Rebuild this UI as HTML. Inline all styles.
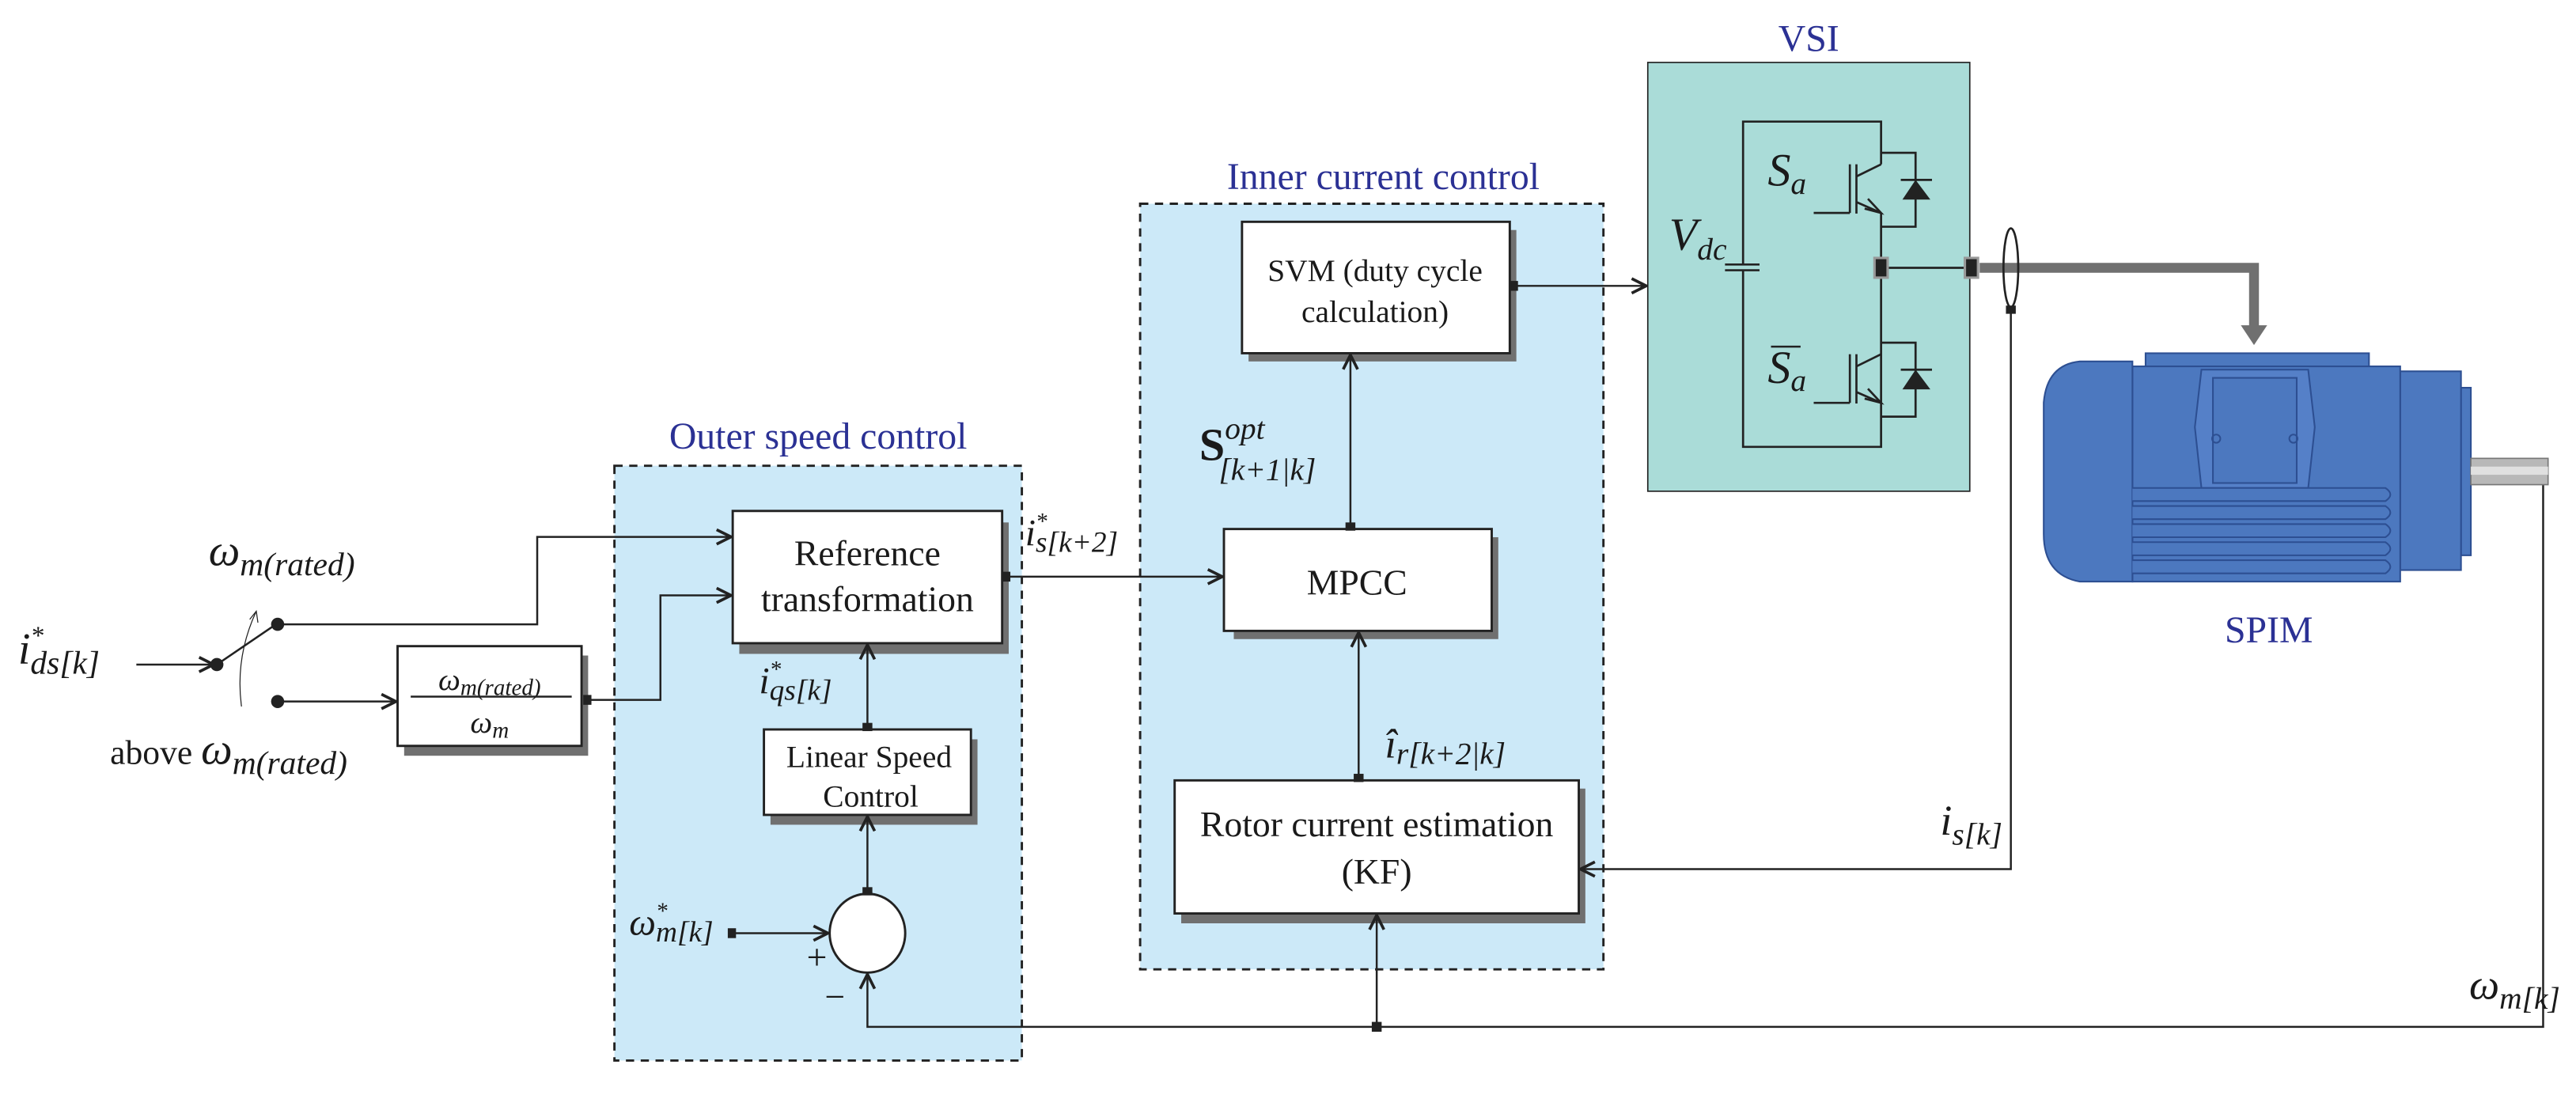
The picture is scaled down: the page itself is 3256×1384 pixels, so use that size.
<!DOCTYPE html>
<html><head><meta charset="utf-8"><style>
html,body{margin:0;padding:0;background:#fff;}
svg{display:block;}
text{font-family:"Liberation Serif",serif;fill:#1a1a1a;}
.m{font-style:italic;}
.b{fill:#2b3194;}
</style></head><body>
<svg width="3256" height="1384" viewBox="0 0 1568 666.5" preserveAspectRatio="none" xmlns="http://www.w3.org/2000/svg">
<defs>
<marker id="a" viewBox="0 0 10 10" refX="9" refY="5" markerWidth="11" markerHeight="11" markerUnits="userSpaceOnUse" orient="auto">
<path d="M1,1 L9,5 L1,9" fill="none" stroke="#222" stroke-width="1.6"/></marker>
</defs>
<g stroke="#222" fill="none" stroke-width="1.2">
<rect x="374" y="283.5" width="248" height="362" fill="#cce9f8" stroke-dasharray="5,4" stroke-width="1.4"/>
<rect x="694" y="124" width="282" height="466" fill="#cce9f8" stroke-dasharray="5,4" stroke-width="1.4"/>
<rect x="1003" y="38" width="196" height="261" fill="#aadcd8" stroke-width="0.8"/>
</g>
<g fill="#707070">
<rect x="450" y="318" width="164" height="80"/>
<rect x="246" y="399" width="112" height="61"/>
<rect x="469" y="450" width="126" height="52"/>
<rect x="760" y="140" width="163" height="80"/>
<rect x="751" y="327" width="161" height="62"/>
<rect x="719" y="480" width="246" height="82"/>
</g>
<g fill="#fff" stroke="#222" stroke-width="1.4">
<rect x="446" y="311" width="164" height="80.5"/>
<rect x="242" y="393.3" width="112" height="60.7"/>
<rect x="465" y="444" width="126" height="52"/>
<rect x="756" y="135" width="163" height="80"/>
<rect x="745" y="322" width="163" height="62"/>
<rect x="715" y="475" width="246" height="81"/>
<ellipse cx="528" cy="568" rx="23" ry="24"/>
</g>
<g font-size="22" text-anchor="middle">
<text x="528" y="344">Reference</text>
<text x="528" y="372">transformation</text>
<text x="529" y="467" font-size="19">Linear Speed</text>
<text x="530" y="491" font-size="19">Control</text>
<text x="837" y="171" font-size="19">SVM (duty cycle</text>
<text x="837" y="196" font-size="19">calculation)</text>
<text x="826" y="362">MPCC</text>
<text x="838" y="509">Rotor current estimation</text>
<text x="838" y="538">(KF)</text>
</g>
<text x="298" y="420" class="m" font-size="19" text-anchor="middle">ω<tspan font-size="14" dy="3">m(rated)</tspan></text>
<line x1="250" y1="424" x2="348" y2="424" stroke="#222" stroke-width="1.2"/>
<text x="298" y="446" class="m" font-size="19" text-anchor="middle">ω<tspan font-size="14" dy="3">m</tspan></text>
<g class="b" font-size="23" text-anchor="middle">
<text x="498" y="273" class="b">Outer speed control</text>
<text x="842" y="115" class="b">Inner current control</text>
<text x="1101" y="31" class="b">VSI</text>
<text x="1381" y="391" class="b">SPIM</text>
</g>
<g stroke="#222" fill="none" stroke-width="1.2">
<line x1="83" y1="404.5" x2="130" y2="404.5" marker-end="url(#a)"/>
<line x1="132" y1="404.5" x2="168" y2="380"/>
<polyline points="169,380 327,380 327,326.8 445,326.8" marker-end="url(#a)"/>
<line x1="169" y1="427" x2="241" y2="427" marker-end="url(#a)"/>
<polyline points="356,426 402,426 402,362.4 445,362.4" marker-end="url(#a)"/>
<path d="M147,430 Q143,400 156,372" stroke-width="0.6"/>
<path d="M152,377 L156,372 L157,379" stroke-width="0.6"/>
<line x1="528" y1="444" x2="528" y2="392.5" marker-end="url(#a)"/>
<line x1="528" y1="544" x2="528" y2="497" marker-end="url(#a)"/>
<line x1="447" y1="568" x2="504" y2="568" marker-end="url(#a)"/>
<polyline points="1548,295 1548,625 528,625 528,593" marker-end="url(#a)"/>
<line x1="838" y1="625" x2="838" y2="557" marker-end="url(#a)"/>
<line x1="612" y1="351" x2="744" y2="351" marker-end="url(#a)"/>
<line x1="822" y1="322" x2="822" y2="216" marker-end="url(#a)"/>
<line x1="827" y1="475" x2="827" y2="385" marker-end="url(#a)"/>
<line x1="921" y1="174" x2="1002" y2="174" marker-end="url(#a)"/>
<polyline points="1224,188 1224,529 962,529" marker-end="url(#a)"/>
</g>
<g fill="#222">
<circle cx="132" cy="404.5" r="4"/><circle cx="169" cy="380" r="4"/><circle cx="169" cy="427" r="4"/>
<rect x="355" y="423" width="5" height="6"/>
<rect x="443" y="565" width="5" height="6"/>
<rect x="610" y="348" width="5" height="6"/>
<rect x="525" y="440" width="6" height="5"/>
<rect x="525" y="540" width="6" height="5"/>
<rect x="819" y="318" width="6" height="5"/>
<rect x="824" y="471" width="6" height="5"/>
<rect x="919" y="171" width="5" height="6"/>
<rect x="835" y="622" width="6" height="6"/>
<rect x="1221" y="186" width="6" height="5"/>
</g>
<g class="m" font-size="27">
<text x="11" y="404">i<tspan font-size="16" dy="-12">*</tspan><tspan font-size="20" dx="-8" dy="18">ds[k]</tspan></text>
<text x="127" y="344">ω<tspan font-size="20" dy="6">m(rated)</tspan></text>
<text x="67" y="465" font-style="normal" font-size="21">above <tspan class="m" font-size="27">ω</tspan><tspan font-style="italic" font-size="20" dy="6">m(rated)</tspan></text>
<text x="462" y="422" font-size="23">i<tspan font-size="14" dy="-10">*</tspan><tspan font-size="18" dx="-7" dy="14">qs[k]</tspan></text>
<text x="383" y="569" font-size="23">ω<tspan font-size="14" dy="-10">*</tspan><tspan font-size="18" dx="-7" dy="14">m[k]</tspan></text>
<text x="624" y="332" font-size="23">i<tspan font-size="14" dy="-10">*</tspan><tspan font-size="18" dx="-7" dy="14">s[k+2]</tspan></text>
<text x="730" y="280" font-style="normal" font-weight="bold" font-size="28">S<tspan font-weight="normal" font-style="italic" font-size="19" dy="-13">opt</tspan><tspan font-weight="normal" font-style="italic" font-size="19" dx="-28" dy="25">[k+1|k]</tspan></text>
<text x="843" y="461" font-size="25">î<tspan font-size="19" dy="4">r[k+2|k]</tspan></text>
<text x="1181" y="508" font-size="26">i<tspan font-size="19" dy="6">s[k]</tspan></text>
<text x="1503" y="608" font-size="26">ω<tspan font-size="19" dy="6">m[k]</tspan></text>
<text x="1016" y="152" font-size="28">V<tspan font-size="19" dy="6">dc</tspan></text>
<text x="1076" y="113" font-size="28">S<tspan font-size="19" dy="5">a</tspan></text>
<text x="1076" y="233" font-size="28">S<tspan font-size="19" dy="5">a</tspan></text>
</g>
<line x1="1078" y1="211" x2="1096" y2="211" stroke="#222" stroke-width="1.2"/>
<text x="491" y="590" font-size="22">+</text>
<text x="502" y="614" font-size="22">−</text>
<g stroke="#222" fill="none" stroke-width="1.3">
<polyline points="1145,100 1145,74 1061,74 1061,161"/>
<polyline points="1061,164 1061,272 1145,272 1145,245"/>
<line x1="1050" y1="161" x2="1071" y2="161"/><line x1="1050" y1="164.5" x2="1071" y2="164.5"/>
<line x1="1104" y1="129.6" x2="1126" y2="129.6"/><line x1="1126" y1="100" x2="1126" y2="129.6"/>
<line x1="1130" y1="100" x2="1130" y2="130"/>
<line x1="1130" y1="107.4" x2="1145" y2="100"/>
<line x1="1130" y1="123" x2="1145" y2="129.6"/>
<path d="M1137,121 L1145,129.6 L1135,127"/>
<polyline points="1145,129.6 1145,245"/>
<polyline points="1145,93 1166,93 1166,138 1145,138"/>
<line x1="1157" y1="109.5" x2="1176" y2="109.5"/>
<line x1="1104" y1="245.2" x2="1126" y2="245.2"/><line x1="1126" y1="215.6" x2="1126" y2="245.2"/>
<line x1="1130" y1="215.6" x2="1130" y2="245.6"/>
<line x1="1130" y1="223" x2="1145" y2="215.6"/>
<line x1="1130" y1="238.6" x2="1145" y2="245.2"/>
<path d="M1137,236.6 L1145,245.2 L1135,242.6"/>
<polyline points="1145,208.6 1166,208.6 1166,253.6 1145,253.6"/>
<line x1="1157" y1="225" x2="1176" y2="225"/>
<line x1="1145" y1="163" x2="1200" y2="163"/>
</g>
<g fill="#222"><path d="M1166,109.5 L1175,121.5 L1158,121.5Z"/><path d="M1166,225 L1175,237 L1158,237Z"/></g>
<polyline points="1205,163 1372,163 1372,200" stroke="#707070" stroke-width="6" fill="none"/>
<path d="M1364,198 L1380,198 L1372,210Z" fill="#707070"/>
<g stroke="#999" stroke-width="1.5" fill="#222">
<rect x="1141" y="157" width="8" height="12"/><rect x="1196" y="157" width="8" height="12"/>
</g>
<ellipse cx="1224" cy="163" rx="4.5" ry="24" fill="none" stroke="#222" stroke-width="1.3"/>
<g fill="#4c78bf" stroke="#2d4f92" stroke-width="1">
<rect x="1306" y="215" width="136" height="9"/>
<rect x="1498" y="236" width="6" height="102"/>
<rect x="1461" y="226" width="37" height="121"/>
<rect x="1298" y="223" width="163" height="131"/>
<path d="M1266,220 L1298,220 L1298,354 L1266,354 Q1244,350 1244,325 L1244,245 Q1246,222 1266,220Z"/>
<path d="M1340,225 L1405,225 L1409,260 L1405,297 L1340,297 L1336,260Z" fill="#5580c8"/>
<rect x="1347" y="230" width="51" height="64" fill="#4c78bf"/>
<circle cx="1349" cy="267" r="2.5" fill="none"/><circle cx="1396" cy="267" r="2.5" fill="none"/>
<path d="M1298,297 L1452,297 Q1458,301 1452,305 L1298,305"/>
<path d="M1298,308 L1452,308 Q1458,312 1452,316 L1298,316"/>
<path d="M1298,319 L1452,319 Q1458,323 1452,327 L1298,327"/>
<path d="M1298,330 L1452,330 Q1458,334 1452,338 L1298,338"/>
<path d="M1298,341 L1452,341 Q1458,345 1452,349 L1298,349"/>
</g>
<rect x="1504" y="279" width="47" height="16" fill="#b8b8b8" stroke="#777" stroke-width="0.8"/>
<rect x="1504" y="284" width="47" height="5" fill="#e0e0e0"/>
</svg>
</body></html>
